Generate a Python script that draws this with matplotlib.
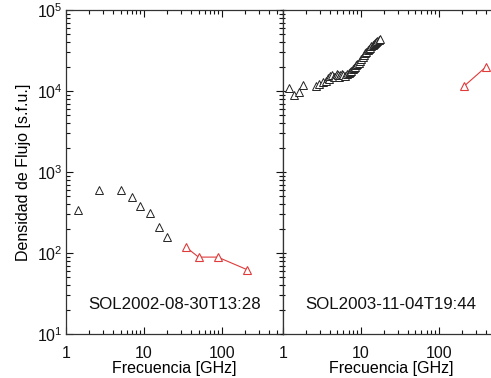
import matplotlib
matplotlib.use("Agg")
import matplotlib.pyplot as plt
from matplotlib.ticker import LogLocator, FixedLocator, FixedFormatter, NullFormatter

plt.rcParams['font.family'] = ['Liberation Sans', 'DejaVu Sans']
plt.rcParams['mathtext.fontset'] = 'custom'
plt.rcParams['mathtext.rm'] = 'Liberation Sans'

# --- datos ---
# SOL2002-08-30T13:28
f1_radio = [1.41, 2.67, 5.0, 7.0, 8.8, 11.8, 15.4, 19.5]
s1_radio = [340, 594, 605, 488, 380, 315, 208, 156]
f1_sub = [35, 50, 88, 212]
s1_sub = [117, 89, 89, 62]

# SOL2003-11-04T19:44
f2_radio = [1.2, 1.4, 1.6, 1.8,
            2.65, 2.95, 3.26, 3.59, 3.8, 3.96, 4.1, 4.29, 4.5, 4.69, 4.9, 5.07,
            5.25, 5.43, 5.7, 5.98, 6.3, 6.62, 7.0, 7.29, 7.6, 7.89, 8.2,
            8.45, 8.75, 9.04, 9.4, 9.8, 10.2, 10.6, 11.0, 11.4, 11.8, 12.3,
            12.8, 13.2, 13.7, 14.2, 14.8, 15.3, 15.8, 16.3, 17.0, 17.7]
s2_radio = [10900, 9000, 9800, 11700,
            11600, 12200, 12800, 13400, 14600, 14200, 15200, 15900, 14800, 15000, 16300, 15600,
            15000, 15600, 16000, 15800, 15300, 16200, 16800, 17300, 17800, 18500, 19200,
            20000, 20700, 21500, 22400, 23400, 25000, 26500, 27800, 29200, 30500, 32000,
            33200, 34200, 35600, 37000, 38200, 39500, 40600, 41800, 42800, 44300]
f2_sub = [212, 405]
s2_sub = [11500, 19900]

red = '#e03a3a'

fig = plt.figure(figsize=(4.91, 3.78), dpi=100)
ax1 = fig.add_axes([66 / 491, 1 - 334 / 378, 216.7 / 491, 324 / 378])
ax2 = fig.add_axes([282.7 / 491, 1 - 334 / 378, 216.7 / 491, 324 / 378])

panels = [
    (ax1, f1_radio, s1_radio, f1_sub, s1_sub, 'SOL2002-08-30T13:28'),
    (ax2, f2_radio, s2_radio, f2_sub, s2_sub, 'SOL2003-11-04T19:44'),
]

for ax, fr, sr, fs, ss, label in panels:
    ax.set_xscale('log')
    ax.set_yscale('log')
    ax.set_xlim(1, 600)
    ax.set_ylim(10, 1e5)
    ax.plot(fr, sr, linestyle='none', marker='^', markersize=5.5,
            markerfacecolor='white', markeredgecolor='#222222', markeredgewidth=0.7)
    ax.plot(fs, ss, color=red, linewidth=0.8, marker='^', markersize=5.5,
            markerfacecolor='white', markeredgecolor=red, markeredgewidth=0.8)
    ax.text(0.5, 0.09, label, transform=ax.transAxes, ha='center', va='center',
            fontsize=12.2, color='#111111')
    ax.set_xlabel('Frecuencia [GHz]', fontsize=11.5, labelpad=0)
    ax.xaxis.set_major_locator(FixedLocator([1, 10, 100]))
    ax.xaxis.set_major_formatter(FixedFormatter(['1', '10', '100']))
    ax.xaxis.set_minor_locator(LogLocator(base=10, subs=range(2, 10), numticks=20))
    ax.xaxis.set_minor_formatter(NullFormatter())
    ax.yaxis.set_major_locator(LogLocator(base=10, numticks=10))
    ax.yaxis.set_minor_locator(LogLocator(base=10, subs=range(2, 10), numticks=20))
    ax.yaxis.set_minor_formatter(NullFormatter())
    ax.tick_params(which='both', direction='inout' if ax is ax2 else 'in',
                   top=True, right=True, labelsize=11.5, colors='#111111', width=0.8)
    ax.tick_params(which='major', length=5)
    ax.tick_params(which='minor', length=3)
    ax.tick_params(axis='x', which='both', direction='in', pad=9)
    ax.tick_params(axis='y', which='both', pad=2.5)
    for sp in ax.spines.values():
        sp.set_color('#333333')
        sp.set_linewidth(0.9)

ax1.set_ylabel('Densidad de Flujo [s.f.u.]', fontsize=11.5, labelpad=4)
ax2.set_yticklabels([])
ax2.tick_params(axis='y', which='both', labelleft=False)

fig.savefig('out.png', dpi=100)
